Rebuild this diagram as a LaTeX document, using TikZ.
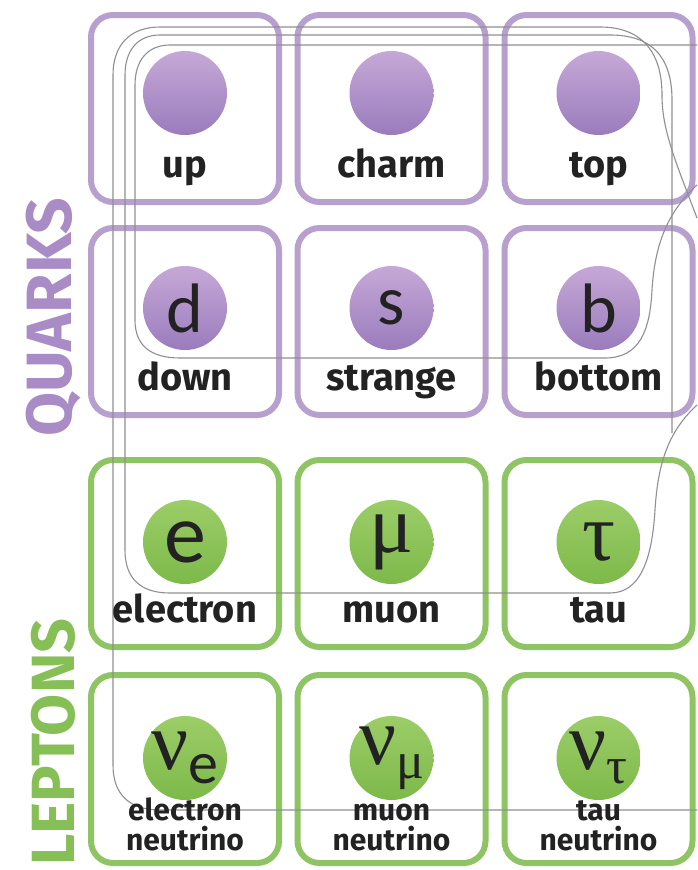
\documentclass[tikz,border=0pt]{standalone}
\usepackage{fontspec}
\setmainfont{Fira Sans}
\newfontfamily\circfont{Carlito}
\newfontfamily\greekfont{Liberation Serif}
\usetikzlibrary{shadings}
\definecolor{qbox}{HTML}{B8A0CE}
\definecolor{lbox}{HTML}{8FC464}
\definecolor{qtop}{HTML}{C6A8D7}
\definecolor{qbot}{HTML}{9A7CBD}
\definecolor{ltop}{HTML}{9CCD68}
\definecolor{lbot}{HTML}{7DB94A}
\definecolor{qtext}{HTML}{A98BC6}
\definecolor{ltext}{HTML}{86BF55}
\definecolor{track}{HTML}{909090}
\definecolor{ink}{HTML}{222222}
\tikzset{
  qcell/.style={draw=qbox, line width=6pt, rounded corners=22pt},
  lcell/.style={draw=lbox, line width=6pt, rounded corners=22pt},
  qball/.style={circle, minimum size=84pt, inner sep=0pt, top color=qtop, bottom color=qbot},
  lball/.style={circle, minimum size=84pt, inner sep=0pt, top color=ltop, bottom color=lbot},
  lab/.style={anchor=base, text=ink, font=\fontsize{38}{38}\selectfont\bfseries, inner sep=0pt},
  lab2/.style={anchor=base, text=ink, font=\fontsize{30}{30}\selectfont\bfseries, inner sep=0pt},
  sym/.style={text=ink, font=\fontsize{70}{70}\selectfont\circfont, inner sep=0pt},
  gsym/.style={text=ink, font=\fontsize{82}{82}\selectfont\greekfont, inner sep=0pt},
  trk/.style={draw=track, line width=1.1pt},
  group/.style={font=\fontsize{64}{64}\selectfont\bfseries, rotate=90, inner sep=0pt}
}
\begin{document}
\begin{tikzpicture}[x=1pt, y=-1pt]
\useasboundingbox (0,0) rectangle (697,870);
\fill[white] (0,0) rectangle (697,870);
% boxes
\foreach \cx/\nm in {185/a, 391.5/b, 598.5/c}{
  \draw[qcell] (\cx-94,15) rectangle (\cx+94,202);
  \draw[qcell] (\cx-94,228) rectangle (\cx+94,415);
  \draw[lcell] (\cx-94,460) rectangle (\cx+94,647);
  \draw[lcell] (\cx-94,675) rectangle (\cx+94,863);
}
% tracks
\draw[trk] (697,218) .. controls (675,160) and (662,130) .. (662,95)
  .. controls (662,50) and (640,27) .. (600,27) -- (160,27)
  .. controls (130,27) and (113,45) .. (113,75) -- (113,765)
  .. controls (113,795) and (130,810) .. (160,810) -- (697,810);
\draw[trk] (672,433) -- (672,100) .. controls (672,55) and (650,35) .. (610,35) -- (160,35)
  .. controls (138,35) and (125,50) .. (125,75) -- (125,550)
  .. controls (125,578) and (140,593) .. (170,593) -- (610,593)
  .. controls (640,593) and (652,560) .. (655,510)
  .. controls (658,460) and (670,430) .. (697,405);
\draw[trk] (697,45) -- (170,45) .. controls (148,45) and (135,60) .. (135,85) -- (135,320)
  .. controls (135,345) and (150,358) .. (180,358) -- (605,358)
  .. controls (640,358) and (650,330) .. (652,290)
  .. controls (655,240) and (670,210) .. (697,185);
% particles
\node[qball] (u) at (185,93) {};
\node[qball] (c) at (391.5,93) {};
\node[qball] (t) at (598.5,93) {};
\node[qball] (d) at (185,308) {};
\node[qball] (s) at (391.5,308) {};
\node[qball] (b) at (598.5,308) {};
\node[lball] (e) at (185,542) {};
\node[lball] (m) at (391.5,542) {};
\node[lball] (ta) at (598.5,542) {};
\node[lball] (ne) at (185,758) {};
\node[lball] (nm) at (391.5,758) {};
\node[lball] (nt) at (598.5,758) {};
\node[sym] (sd) at (d) {d};
\node[sym] (ss) at (s) {s};
\node[sym] (sb) at (b) {b};
\node[sym, font=\fontsize{84}{84}\selectfont\circfont] (se) at (e) {e};
\node[gsym] (sm) at (m) {μ};
\node[gsym] (st) at (ta) {τ};
\node[gsym] (sne) at (ne) {ν\raisebox{-14pt}{\fontsize{60}{60}\selectfont\circfont e}};
\node[gsym] (snm) at (nm) {ν\raisebox{-14pt}{\fontsize{52}{52}\selectfont μ}};
\node[gsym] (snt) at (nt) {ν\raisebox{-14pt}{\fontsize{52}{52}\selectfont τ}};
% labels
\node[lab] (lu) at (185,177) {up};
\node[lab] (lc) at (391.5,177) {charm};
\node[lab] (lt) at (598.5,177) {top};
\node[lab] (ld) at (185,390) {down};
\node[lab] (ls) at (391.5,390) {strange};
\node[lab] (lb) at (598.5,390) {bottom};
\node[lab] (le) at (185,622) {electron};
\node[lab] (lm) at (391.5,622) {muon};
\node[lab] (lta) at (598.5,622) {tau};
\node[lab2] (lne1) at (185,820) {electron};
\node[lab2] (lne2) at (185,850) {neutrino};
\node[lab2] (lnm1) at (391.5,820) {muon};
\node[lab2] (lnm2) at (391.5,850) {neutrino};
\node[lab2] (lnt1) at (598.5,820) {tau};
\node[lab2] (lnt2) at (598.5,850) {neutrino};
% group titles
\node[group, text=qtext] (Q) at (53,317) {QUARKS};
\node[group, text=ltext, font=\fontsize{61}{61}\selectfont\bfseries] (L) at (53,742) {LEPTONS};
\end{tikzpicture}
\end{document}
